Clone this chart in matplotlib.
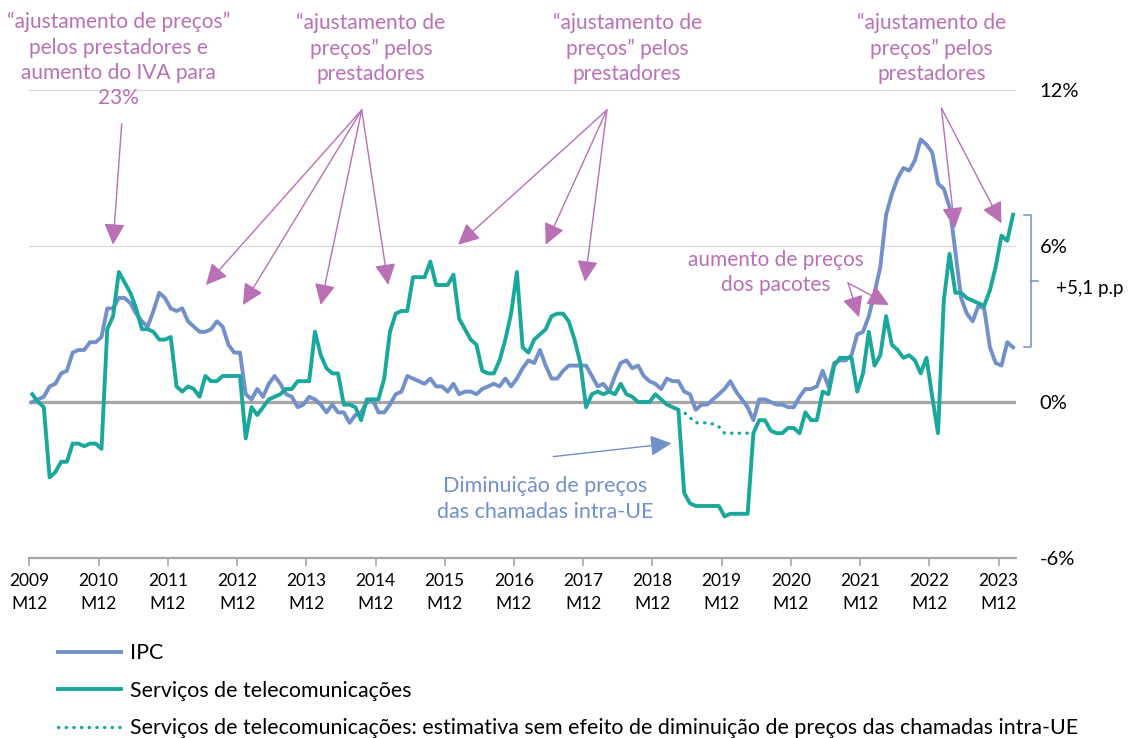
#!/usr/bin/env python3
"""
Inflation (IPC) vs telecom services prices, year-on-year change by month
"""

import numpy as np
import pandas as pd
import matplotlib
matplotlib.use('Agg')
import matplotlib.pyplot as plt
from matplotlib.lines import Line2D
from matplotlib.ticker import FuncFormatter

plt.rcParams['font.family'] = ['Lato', 'DejaVu Sans']

# --- data: y-o-y change (%), monthly from 2009 M12 to 2024 M02 ---
months = pd.period_range('2009-12', '2024-02', freq='M')

ipc = [
    0.0,
    0.1, 0.2, 0.6, 0.7, 1.1, 1.2, 1.9, 2.0, 2.0, 2.3, 2.3, 2.5,        # 2010
    3.6, 3.6, 4.0, 4.0, 3.8, 3.4, 3.1, 2.9, 3.5, 4.2, 4.0, 3.6,        # 2011
    3.5, 3.6, 3.1, 2.9, 2.7, 2.7, 2.8, 3.1, 2.9, 2.2, 1.9, 1.9,        # 2012
    0.3, 0.1, 0.5, 0.2, 0.7, 1.0, 0.7, 0.3, 0.2, -0.2, -0.1, 0.2,      # 2013
    0.1, -0.1, -0.4, -0.1, -0.4, -0.4, -0.8, -0.5, -0.4, 0.0, 0.1, -0.4,  # 2014
    -0.4, -0.1, 0.3, 0.4, 1.0, 0.9, 0.8, 0.7, 0.9, 0.6, 0.6, 0.4,     # 2015
    0.7, 0.3, 0.4, 0.4, 0.3, 0.5, 0.6, 0.7, 0.6, 0.9, 0.6, 0.9,        # 2016
    1.3, 1.6, 1.5, 2.0, 1.4, 0.9, 0.9, 1.2, 1.4, 1.4, 1.4, 1.4,        # 2017
    1.0, 0.6, 0.7, 0.4, 1.0, 1.5, 1.6, 1.3, 1.4, 1.0, 0.8, 0.7,        # 2018
    0.5, 0.9, 0.8, 0.8, 0.4, 0.3, -0.3, -0.1, -0.1, 0.1, 0.3, 0.5,     # 2019
    0.8, 0.4, 0.1, -0.2, -0.7, 0.1, 0.1, 0.0, -0.1, -0.1, -0.2, -0.2,  # 2020
    0.2, 0.5, 0.5, 0.6, 1.2, 0.6, 1.5, 1.6, 1.6, 1.8, 2.6, 2.7,        # 2021
    3.3, 4.2, 5.2, 7.2, 8.0, 8.6, 9.0, 8.9, 9.3, 10.1, 9.9, 9.6,       # 2022
    8.4, 8.2, 7.5, 5.8, 4.0, 3.4, 3.1, 3.7, 3.6, 2.1, 1.5, 1.4,        # 2023
    2.3, 2.1,                                                          # 2024
]

telecom = [
    0.3,
    0.0, -0.2, -2.9, -2.7, -2.3, -2.3, -1.6, -1.6, -1.7, -1.6, -1.6, -1.8,  # 2010
    2.8, 3.3, 5.0, 4.6, 4.2, 3.6, 2.8, 2.8, 2.7, 2.4, 2.4, 2.5,        # 2011
    0.6, 0.4, 0.6, 0.5, 0.2, 1.0, 0.8, 0.8, 1.0, 1.0, 1.0, 1.0,        # 2012
    -1.4, -0.2, -0.5, -0.2, 0.1, 0.2, 0.3, 0.5, 0.5, 0.8, 0.8, 0.8,    # 2013
    2.7, 1.8, 1.3, 1.1, 1.1, -0.1, -0.1, -0.2, -0.7, 0.1, 0.1, 0.1,    # 2014
    0.9, 2.7, 3.4, 3.5, 3.5, 4.8, 4.8, 4.8, 5.4, 4.5, 4.5, 4.5,        # 2015
    4.9, 3.2, 2.8, 2.4, 2.2, 1.2, 1.1, 1.1, 1.6, 2.4, 3.4, 5.0,        # 2016
    2.1, 1.9, 2.4, 2.6, 2.8, 3.3, 3.4, 3.4, 3.1, 2.4, 1.5, -0.2,       # 2017
    0.3, 0.4, 0.3, 0.4, 0.3, 0.7, 0.3, 0.2, 0.0, 0.0, 0.0, 0.3,        # 2018
    0.1, -0.1, -0.2, -0.3, -3.5, -3.9, -4.0, -4.0, -4.0, -4.0, -4.0, -4.4,  # 2019
    -4.3, -4.3, -4.3, -4.3, -1.2, -0.7, -0.7, -1.1, -1.2, -1.2, -1.0, -1.0,  # 2020
    -1.2, -0.4, -0.7, -0.7, 0.4, 0.3, 1.4, 1.7, 1.7, 1.7, 0.4, 1.1,    # 2021
    2.7, 1.4, 1.8, 3.3, 2.2, 2.0, 1.7, 1.8, 1.6, 1.1, 1.7, 0.2,        # 2022
    -1.2, 3.9, 5.7, 4.2, 4.2, 4.0, 3.9, 3.8, 3.7, 4.3, 5.2, 6.4,       # 2023
    6.2, 7.2,                                                          # 2024
]

# estimate without the intra-EU calls price cut, 2019 M04 .. 2020 M05
telecom_est_start = '2019-04'
telecom_est = [-0.3, -0.4, -0.6, -0.8, -0.8, -0.8, -0.85, -0.95,
               -1.2, -1.2, -1.2, -1.2, -1.2, -1.2]

labels = [
    'IPC',
    'Serviços de telecomunicações',
    'Serviços de telecomunicações: estimativa sem efeito de diminuição '
    'de preços das chamadas intra-UE',
]

BLUE = '#7290C9'
TEAL = '#19A89B'
PINK = '#B970B5'
GREY = '#A6A6A6'
DOTS = (0, (0.1, 2.2))


def arrow(ax, tail, head, color):
    ax.annotate('', xy=head, xytext=tail, annotation_clip=False,
                arrowprops=dict(arrowstyle='-|>,head_length=0.65,head_width=0.32',
                                color=color, lw=1.0, shrinkA=0, shrinkB=0,
                                mutation_scale=20))


def note(ax, x, y, text, color=PINK, size=15):
    ax.text(x, y, text, ha='center', va='center', color=color,
            fontsize=size, linespacing=1.33, clip_on=False)


def plot_chart():
    fig = plt.figure(figsize=(11.31, 7.38), dpi=100)
    ax = fig.add_axes([29.4 / 1131, 180 / 738, 986.5 / 1131, 468 / 738])

    x = np.arange(len(months))
    ax.axhline(12, color='#D9D9D9', lw=0.9, zorder=1)
    ax.axhline(6, color='#D9D9D9', lw=0.9, zorder=1)
    ax.axhline(0, color=GREY, lw=2.4, zorder=2)

    ax.plot(x, ipc, color=BLUE, lw=2.8, zorder=3)
    ax.plot(x, telecom, color=TEAL, lw=2.8, zorder=4)
    i0 = months.get_loc(pd.Period(telecom_est_start, freq='M'))
    ax.plot(x[i0:i0 + len(telecom_est)], telecom_est, color=TEAL, lw=2.4,
            linestyle=DOTS, dash_capstyle='round', zorder=4)

    ax.set_xlim(-0.5, len(months) - 0.5)
    ax.set_ylim(-6, 12)

    # axes
    ax.yaxis.tick_right()
    ax.set_yticks([-6, 0, 6, 12])
    ax.yaxis.set_major_formatter(FuncFormatter(lambda v, p: f'{v:.0f}%'))
    ax.tick_params(axis='y', length=0, pad=17, labelsize=14.5)

    pos = list(range(0, len(months), 12))
    ax.set_xticks([p - 0.5 for p in pos])
    ax.set_xticklabels([f'{months[p].year}\nM{months[p].month}' for p in pos])
    ax.tick_params(axis='x', length=6, width=1.2, color=GREY, pad=5, labelsize=12.5)
    for lbl in ax.get_xticklabels():
        lbl.set_linespacing(1.5)

    for s in ['top', 'left', 'right']:
        ax.spines[s].set_visible(False)
    ax.spines['bottom'].set_color(GREY)
    ax.spines['bottom'].set_linewidth(1.6)

    # annotations
    note(ax, 14.9, 13.15, '“ajustamento de preços”\npelos prestadores e\naumento do IVA para\n23%')
    arrow(ax, (15.5, 10.7), (14.0, 6.05), PINK)

    note(ax, 58.7, 13.6, '“ajustamento de\npreços” pelos\nprestadores')
    for head in [(30.1, 4.5), (36.5, 3.73), (50.0, 3.73), (61.7, 4.5)]:
        arrow(ax, (57.1, 11.23), head, PINK)

    note(ax, 103.1, 13.6, '“ajustamento de\npreços” pelos\nprestadores')
    for head in [(73.8, 6.05), (89.0, 6.05), (95.8, 4.63)]:
        arrow(ax, (99.6, 11.23), head, PINK)

    note(ax, 155.9, 13.6, '“ajustamento de\npreços” pelos\nprestadores')
    for head in [(159.9, 6.68), (168.0, 6.87)]:
        arrow(ax, (157.6, 11.3), head, PINK)

    note(ax, 128.9, 4.98, 'aumento de preços\ndos pacotes', size=15)
    for head in [(143.3, 3.26), (148.5, 3.73)]:
        arrow(ax, (141.4, 4.58), head, PINK)

    note(ax, 88.9, -3.73, 'Diminuição de preços\ndas chamadas intra-UE', color=BLUE, size=15.5)
    arrow(ax, (90.3, -2.1), (110.8, -1.59), BLUE)

    # gap bracket at the end of the series
    top, bot = telecom[-1], ipc[-1]
    mid = (top + bot) / 2
    bx0, bx1, bx2 = 171.9, 173.2, 174.3
    ax.plot([bx0, bx1, bx1, bx0], [top, top, bot, bot], color=BLUE, lw=1.1, clip_on=False)
    ax.plot([bx1, bx2], [mid, mid], color=BLUE, lw=1.1, clip_on=False)
    ax.text(177.4, mid - 0.3, '+5,1 p.p', ha='left', va='center', fontsize=13.5,
            color='black', clip_on=False)

    # legend
    handles = [
        Line2D([], [], color=BLUE, lw=2.8),
        Line2D([], [], color=TEAL, lw=2.8),
        Line2D([], [], color=TEAL, lw=2.4, linestyle=DOTS, dash_capstyle='round'),
    ]
    fig.legend(handles, labels, loc='upper left',
               bbox_to_anchor=(58 / 1131, 1 - 643 / 738), frameon=False,
               fontsize=15.4, handlelength=2.95, handletextpad=0.4,
               labelspacing=0.82, borderpad=0, borderaxespad=0)

    fig.savefig('out.png', dpi=100)
    print('Graph saved to out.png')


def main():
    plot_chart()


if __name__ == '__main__':
    main()
